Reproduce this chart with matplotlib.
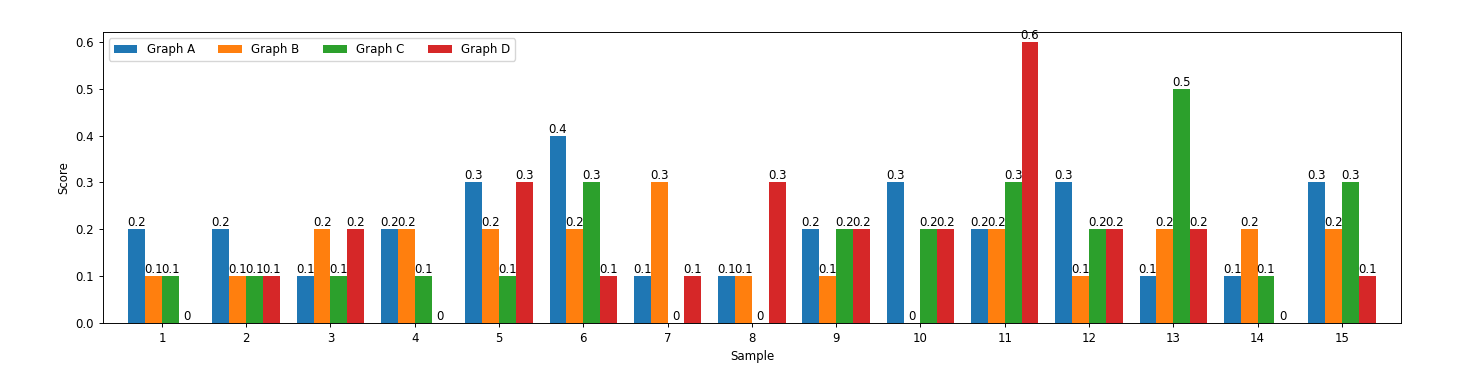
import matplotlib
matplotlib.use("Agg")
import matplotlib.pyplot as plt
import numpy as np

samples = list(range(1, 16))
graph_a = [0.2, 0.2, 0.1, 0.2, 0.3, 0.4, 0.1, 0.1, 0.2, 0.3, 0.2, 0.3, 0.1, 0.1, 0.3]
graph_b = [0.1, 0.1, 0.2, 0.2, 0.2, 0.2, 0.3, 0.1, 0.1, 0, 0.2, 0.1, 0.2, 0.2, 0.2]
graph_c = [0.1, 0.1, 0.1, 0.1, 0.1, 0.3, 0, 0, 0.2, 0.2, 0.3, 0.2, 0.5, 0.1, 0.3]
graph_d = [0, 0.1, 0.2, 0, 0.3, 0.1, 0.1, 0.3, 0.2, 0.2, 0.6, 0.2, 0.2, 0, 0.1]

series = [("Graph A", graph_a), ("Graph B", graph_b), ("Graph C", graph_c), ("Graph D", graph_d)]

# reference looks like a slightly downscaled default render
scale = 0.85
plt.rcParams.update({
    "font.size": 10 * scale,
    "axes.linewidth": 0.8 * scale,
    "xtick.major.size": 3.5 * scale,
    "ytick.major.size": 3.5 * scale,
    "xtick.major.width": 0.8 * scale,
    "ytick.major.width": 0.8 * scale,
})

fig = plt.figure(figsize=(14.6, 3.84), dpi=100)
ax = fig.add_axes([0.0705, 0.159, 0.889, 0.7565])

x = np.array(samples, dtype=float)
width = 0.2
for i, (name, vals) in enumerate(series):
    bars = ax.bar(x + (i - 1.5) * width, vals, width, label=name)
    ax.bar_label(bars, fmt="%g")

ax.set_xticks(x)
ax.set_xticklabels([str(s) for s in samples])
ax.set_xlim(0.3, 15.7)
ax.set_ylim(0, 0.62)
ax.set_xlabel("Sample")
ax.set_ylabel("Score")
ax.legend(loc="upper left", ncol=4)

fig.savefig("out.png", dpi=100)
